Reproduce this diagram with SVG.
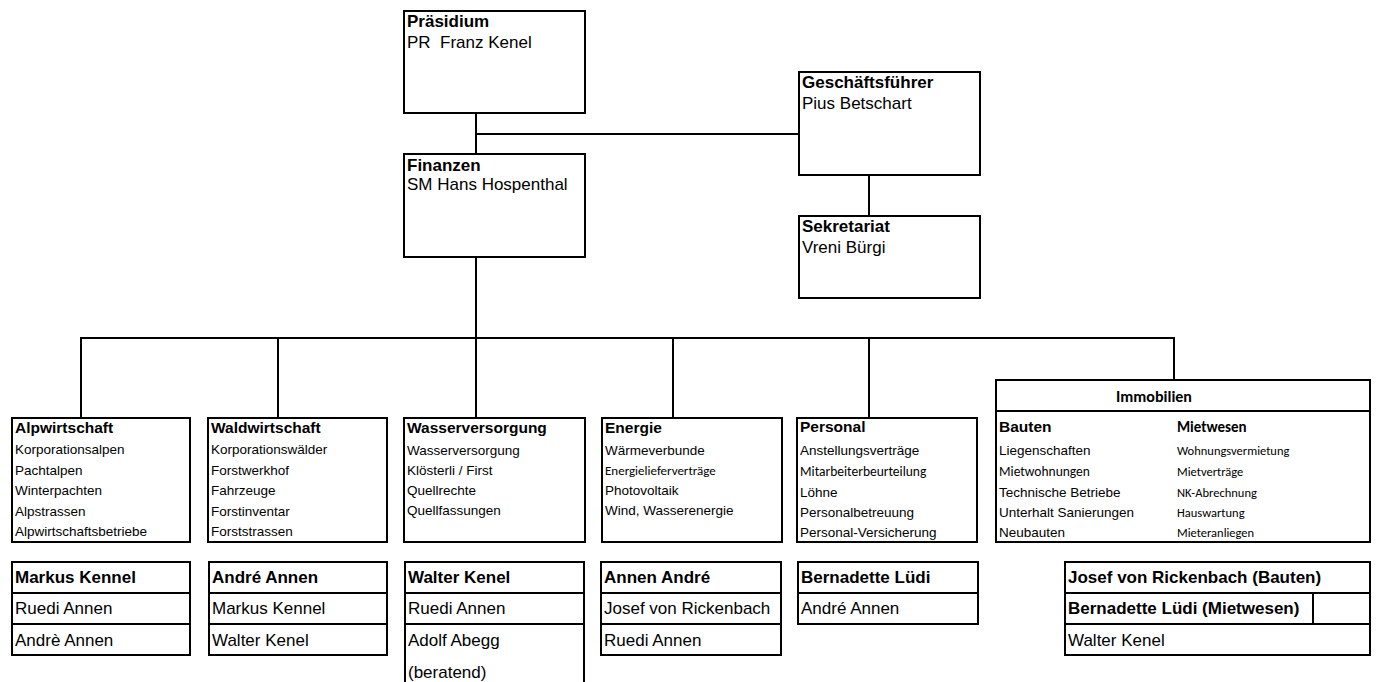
<svg xmlns="http://www.w3.org/2000/svg" width="1376" height="682" viewBox="0 0 1376 682">
<style>
rect.b{fill:#fff;stroke:#000;stroke-width:2}
line,path{stroke:#000;stroke-width:2;fill:none}
text{font-family:"Liberation Sans",Arial,sans-serif;fill:#000}
.t{font-size:17px}
.tb{font-size:17px;font-weight:bold}
.h{font-size:15.5px;font-weight:bold}
.i{font-size:13.5px}
.c{font-family:Carlito,Lato,"Open Sans",sans-serif;font-size:12.5px}
.c2{font-family:Carlito,Lato,"Open Sans",sans-serif;font-size:13.5px}
.cb{font-family:Carlito,Lato,"Open Sans",sans-serif;font-size:16px;font-weight:bold}
</style>
<rect width="1376" height="682" fill="#fff"/>
<g id="connectors">
<line x1="476" y1="113" x2="476" y2="154"/>
<line x1="476" y1="134" x2="799" y2="134"/>
<line x1="869" y1="175" x2="869" y2="216"/>
<line x1="476" y1="257" x2="476" y2="338"/>
<line x1="80" y1="338" x2="1175" y2="338"/>
<line x1="81" y1="338" x2="81" y2="418"/>
<line x1="278" y1="338" x2="278" y2="418"/>
<line x1="476" y1="338" x2="476" y2="418"/>
<line x1="673" y1="338" x2="673" y2="418"/>
<line x1="869" y1="338" x2="869" y2="418"/>
<line x1="1174" y1="338" x2="1174" y2="380"/>
</g>
<g id="praesidium">
<rect class="b" x="404" y="11" width="181" height="102"/>
<text class="tb" x="407" y="27">Präsidium</text>
<text class="t" x="407" y="48">PR&#160; Franz Kenel</text>
</g>
<g id="finanzen">
<rect class="b" x="404" y="154" width="181" height="103"/>
<text class="tb" x="407" y="171">Finanzen</text>
<text class="t" x="407" y="190">SM Hans Hospenthal</text>
</g>
<g id="geschaeftsfuehrer">
<rect class="b" x="799" y="72" width="181" height="103"/>
<text class="tb" x="802" y="88">Geschäftsführer</text>
<text class="t" x="802" y="109">Pius Betschart</text>
</g>
<g id="sekretariat">
<rect class="b" x="799" y="216" width="181" height="82"/>
<text class="tb" x="802" y="232">Sekretariat</text>
<text class="t" x="802" y="253">Vreni Bürgi</text>
</g>
<g id="alpwirtschaft">
<rect class="b" x="12" y="418" width="178" height="124"/>
<text class="h" x="15" y="433">Alpwirtschaft</text>
<text class="i" x="15" y="454">Korporationsalpen</text>
<text class="i" x="15" y="475">Pachtalpen</text>
<text class="i" x="15" y="495">Winterpachten</text>
<text class="i" x="15" y="516">Alpstrassen</text>
<text class="i" x="15" y="536">Alpwirtschaftsbetriebe</text>
</g>
<g id="waldwirtschaft">
<rect class="b" x="208" y="418" width="179" height="124"/>
<text class="h" x="211" y="433">Waldwirtschaft</text>
<text class="i" x="211" y="454">Korporationswälder</text>
<text class="i" x="211" y="475">Forstwerkhof</text>
<text class="i" x="211" y="495">Fahrzeuge</text>
<text class="i" x="211" y="516">Forstinventar</text>
<text class="i" x="211" y="536">Forststrassen</text>
</g>
<g id="wasserversorgung">
<rect class="b" x="404" y="418" width="181" height="124"/>
<text class="h" x="407" y="433">Wasserversorgung</text>
<text class="i" x="407" y="455">Wasserversorgung</text>
<text class="i" x="407" y="475">Klösterli / First</text>
<text class="i" x="407" y="495">Quellrechte</text>
<text class="i" x="407" y="515">Quellfassungen</text>
</g>
<g id="energie">
<rect class="b" x="602" y="418" width="180" height="124"/>
<text class="h" x="605" y="433">Energie</text>
<text class="i" x="605" y="455">Wärmeverbunde</text>
<text class="c" x="605" y="475" style="font-size:13px">Energielieferverträge</text>
<text class="i" x="605" y="495">Photovoltaik</text>
<text class="i" x="605" y="515">Wind, Wasserenergie</text>
</g>
<g id="personal">
<rect class="b" x="797" y="418" width="180" height="124"/>
<text class="h" x="800" y="432">Personal</text>
<text class="i" x="800" y="455">Anstellungsverträge</text>
<text class="c2" x="800" y="476">Mitarbeiterbeurteilung</text>
<text class="i" x="800" y="497">Löhne</text>
<text class="i" x="800" y="517">Personalbetreuung</text>
<text class="i" x="800" y="537">Personal-Versicherung</text>
</g>
<g id="immobilien">
<rect class="b" x="996" y="380" width="374" height="162"/>
<line x1="996" y1="411" x2="1370" y2="411"/>
<text class="cb" x="1154" y="402" text-anchor="middle">Immobilien</text>
<text class="h" x="999" y="432">Bauten</text>
<text class="i" x="999" y="455">Liegenschaften</text>
<text class="c2" x="999" y="476">Mietwohnungen</text>
<text class="i" x="999" y="497">Technische Betriebe</text>
<text class="i" x="999" y="517">Unterhalt Sanierungen</text>
<text class="i" x="999" y="537">Neubauten</text>
<text class="cb" x="1177" y="432" style="font-size:15px">Mietwesen</text>
<text class="c" x="1177" y="455">Wohnungsvermietung</text>
<text class="c" x="1177" y="476">Mietverträge</text>
<text class="c" x="1177" y="497">NK-Abrechnung</text>
<text class="c" x="1177" y="517">Hauswartung</text>
<text class="c" x="1177" y="537">Mieteranliegen</text>
</g>
<g id="team-alp">
<rect class="b" x="12" y="562" width="178" height="93"/>
<line x1="12" y1="593" x2="190" y2="593"/>
<line x1="12" y1="624" x2="190" y2="624"/>
<text class="tb" x="15" y="583">Markus Kennel</text>
<text class="t" x="15" y="614">Ruedi Annen</text>
<text class="t" x="15" y="646">Andrè Annen</text>
</g>
<g id="team-wald">
<rect class="b" x="209" y="562" width="178" height="93"/>
<line x1="209" y1="593" x2="387" y2="593"/>
<line x1="209" y1="624" x2="387" y2="624"/>
<text class="tb" x="212" y="583">André Annen</text>
<text class="t" x="212" y="614">Markus Kennel</text>
<text class="t" x="212" y="646">Walter Kenel</text>
</g>
<g id="team-wasser">
<path d="M405 684V562H584V684"/>
<line x1="405" y1="593" x2="584" y2="593"/>
<line x1="405" y1="624" x2="584" y2="624"/>
<text class="tb" x="408" y="583">Walter Kenel</text>
<text class="t" x="408" y="614">Ruedi Annen</text>
<text class="t" x="408" y="646">Adolf Abegg</text>
<text class="t" x="408" y="678">(beratend)</text>
</g>
<g id="team-energie">
<rect class="b" x="601" y="562" width="180" height="93"/>
<line x1="601" y1="593" x2="781" y2="593"/>
<line x1="601" y1="624" x2="781" y2="624"/>
<text class="tb" x="604" y="583">Annen André</text>
<text class="t" x="604" y="614">Josef von Rickenbach</text>
<text class="t" x="604" y="646">Ruedi Annen</text>
</g>
<g id="team-personal">
<rect class="b" x="798" y="562" width="180" height="62"/>
<line x1="798" y1="593" x2="978" y2="593"/>
<text class="tb" x="801" y="583">Bernadette Lüdi</text>
<text class="t" x="801" y="614">André Annen</text>
</g>
<g id="team-immobilien">
<rect class="b" x="1065" y="562" width="305" height="93"/>
<line x1="1065" y1="593" x2="1370" y2="593"/>
<line x1="1065" y1="624" x2="1370" y2="624"/>
<line x1="1313" y1="593" x2="1313" y2="624"/>
<text class="tb" x="1068" y="583">Josef von Rickenbach (Bauten)</text>
<text class="tb" x="1068" y="614">Bernadette Lüdi (Mietwesen)</text>
<text class="t" x="1068" y="646">Walter Kenel</text>
</g>
</svg>
